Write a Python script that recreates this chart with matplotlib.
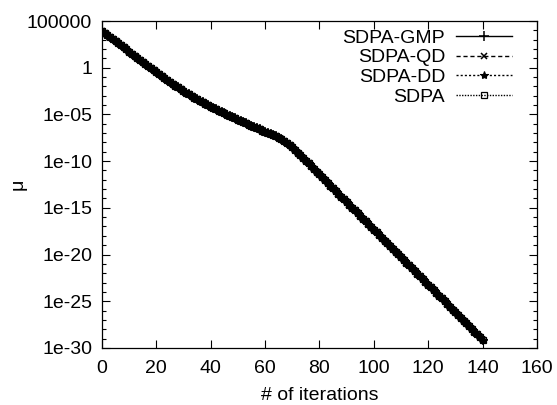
# mu vs. iterations for the SDPA family of solvers (log scale)

import numpy as np
import matplotlib
matplotlib.use("Agg")
import matplotlib.pyplot as plt
from matplotlib.ticker import LogLocator, FuncFormatter, NullFormatter

plt.rcParams['font.family'] = ['Liberation Sans', 'DejaVu Sans']

# log10(mu), one value per iteration (0..140)
log_mu = [
    3.90, 3.69, 3.48, 3.26, 3.05, 2.83, 2.62, 2.40, 2.18, 1.96,
    1.74, 1.52, 1.30, 1.08, 0.86, 0.64, 0.42, 0.20, -0.02, -0.24,
    -0.46, -0.68, -0.89, -1.10, -1.31, -1.51, -1.71, -1.91, -2.10, -2.29,
    -2.48, -2.66, -2.84, -3.02, -3.19, -3.36, -3.52, -3.68, -3.84, -4.00,
    -4.15, -4.30, -4.45, -4.60, -4.74, -4.88, -5.02, -5.16, -5.30, -5.43,
    -5.56, -5.69, -5.82, -5.95, -6.08, -6.21, -6.34, -6.47, -6.60, -6.72,
    -6.84, -6.96, -7.08, -7.20, -7.33, -7.47, -7.63, -7.82, -8.04, -8.28,
    -8.54, -8.81, -9.09, -9.37, -9.66, -9.95, -10.25, -10.55, -10.84, -11.14,
    -11.43, -11.73, -12.02, -12.32, -12.61, -12.91, -13.20, -13.50, -13.79, -14.09,
    -14.38, -14.68, -14.97, -15.27, -15.56, -15.86, -16.15, -16.45, -16.74, -17.04,
    -17.33, -17.63, -17.92, -18.22, -18.51, -18.81, -19.10, -19.40, -19.69, -19.99,
    -20.28, -20.58, -20.87, -21.17, -21.46, -21.76, -22.05, -22.35, -22.64, -22.94,
    -23.23, -23.53, -23.82, -24.12, -24.41, -24.71, -25.00, -25.30, -25.59, -25.89,
    -26.18, -26.48, -26.77, -27.07, -27.36, -27.66, -27.95, -28.25, -28.54, -28.84,
    -29.13,
]
iterations = np.arange(len(log_mu))
mu = 10.0 ** np.array(log_mu)

# all four solvers follow the same path in the picture
mu_gmp = mu
mu_qd = mu
mu_dd = mu
mu_sdpa = mu

labels = ["SDPA-GMP", "SDPA-QD", "SDPA-DD", "SDPA"]
x_ticks = [0, 20, 40, 60, 80, 100, 120, 140, 160]

fig = plt.figure(figsize=(5.57, 4.05), dpi=100)
ax = fig.add_axes([0.183, 0.141, 0.781, 0.807])

ax.plot(iterations, mu_gmp, color='black', lw=1.0, ls='-', marker='+', ms=7, mew=1.1, label=labels[0])
ax.plot(iterations, mu_qd, color='black', lw=1.0, ls=(0, (3, 2)), marker='x', ms=5, mew=1.1, label=labels[1])
ax.plot(iterations, mu_dd, color='black', lw=1.0, ls=(0, (1.5, 1.5)), marker='*', ms=6, mew=0.8, label=labels[2])
ax.plot(iterations, mu_sdpa, color='black', lw=1.0, ls=(0, (1, 1)), marker='s', ms=4.5, mew=0.9,
        mfc='none', label=labels[3])

ax.set_yscale('log')
ax.set_ylim(1e-30, 1e5)
ax.set_xlim(0, 160)
ax.yaxis.set_major_locator(LogLocator(base=1e5))
ax.yaxis.set_minor_locator(LogLocator(base=10, subs=(1.0,), numticks=100))
ax.yaxis.set_major_formatter(FuncFormatter(lambda v, p: '%g' % v))
ax.yaxis.set_minor_formatter(NullFormatter())
ax.set_xticks(x_ticks)

ax.tick_params(which='both', direction='in', top=True, right=True, labelsize=14, width=0.8)
ax.tick_params(which='major', length=6)
ax.tick_params(axis='x', which='major', pad=9)
ax.tick_params(axis='y', which='major', pad=7)
ax.tick_params(which='minor', length=3)
for s in ax.spines.values():
    s.set_linewidth(0.9)

ax.set_xlabel("# of iterations", fontsize=14, labelpad=7)
ax.set_ylabel("μ", fontsize=14, labelpad=0)

leg = ax.legend(loc='upper right', bbox_to_anchor=(0.943, 0.975), frameon=False, markerfirst=False,
                fontsize=14, handlelength=2.9, handletextpad=0.55, labelspacing=0.1,
                borderpad=0, borderaxespad=0)

fig.savefig("out.png", dpi=100)
